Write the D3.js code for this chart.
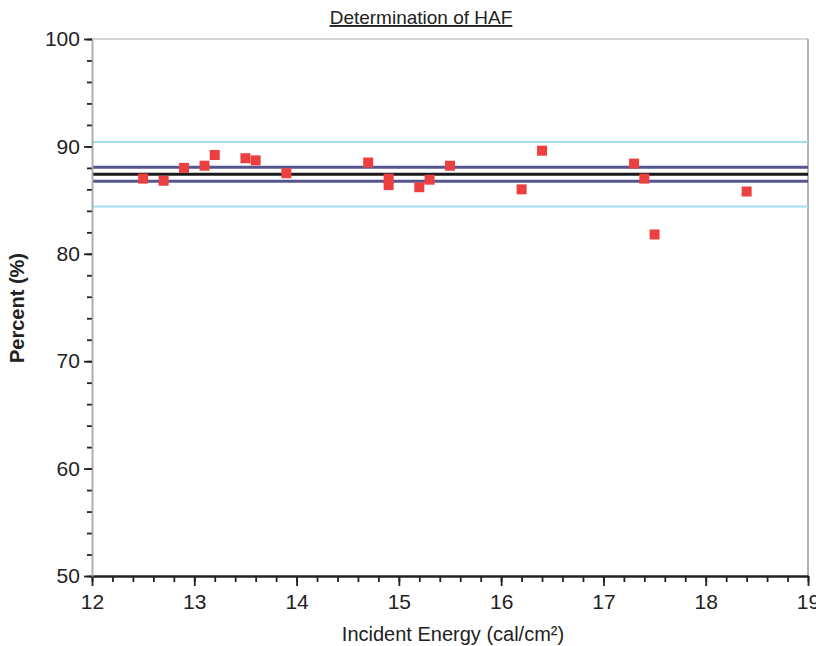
<!DOCTYPE html>
<html>
<head>
<meta charset="utf-8">
<script src="https://cdn.jsdelivr.net/npm/d3@7"></script>
<style>
  body { margin: 0; background: #fff; }
  text { font-family: "Liberation Sans Narrow", "Arial Narrow", "Liberation Sans", Arial, sans-serif; }
</style>
</head>
<body>
<div id="chart"></div>
<script>
// data
let energy  = [12.5, 12.7, 12.9, 13.1, 13.2, 13.5, 13.6, 13.9, 14.7, 14.9, 14.9, 15.2, 15.3, 15.5, 16.2, 16.4, 17.3, 17.4, 17.5, 18.4];
let percent = [87.0, 86.8, 88.0, 88.2, 89.2, 88.9, 88.7, 87.5, 88.5, 87.0, 86.4, 86.2, 86.9, 88.2, 86.0, 89.6, 88.4, 87.0, 81.8, 85.8];
let meanLine = 87.4;
let ciLines = [88.05, 86.75];
let limitLines = [90.4, 84.4];
let xTicks = [12, 13, 14, 15, 16, 17, 18, 19];
let yTicks = [50, 60, 70, 80, 90, 100];

let width = 816, height = 646;
let margin = {top: 39, right: 8, bottom: 70, left: 92};

let svg = d3.select("#chart")
    .append("svg")
    .attr("width", width)
    .attr("height", height);

let x = d3.scaleLinear().domain([12, 19]).range([margin.left, width - margin.right]);
let y = d3.scaleLinear().domain([50, 100]).range([height - margin.bottom, margin.top]);

// frame (top and right)
svg.append("line")
    .attr("x1", x(12)).attr("x2", x(19))
    .attr("y1", y(100)).attr("y2", y(100))
    .attr("stroke", "#c8c8c8").attr("stroke-width", 1.5);
svg.append("line")
    .attr("x1", x(19)).attr("x2", x(19))
    .attr("y1", y(100)).attr("y2", y(50))
    .attr("stroke", "#9a9a9a").attr("stroke-width", 1.5);

// horizontal reference lines
svg.selectAll("limitLines")
    .data(limitLines)
    .enter()
    .append("line")
    .attr("x1", x(12)).attr("x2", x(19))
    .attr("y1", d => y(d)).attr("y2", d => y(d))
    .attr("stroke", "#a6dcf2").attr("stroke-width", 2);

svg.selectAll("ciLines")
    .data(ciLines)
    .enter()
    .append("line")
    .attr("x1", x(12)).attr("x2", x(19))
    .attr("y1", d => y(d)).attr("y2", d => y(d))
    .attr("stroke", "#56568e").attr("stroke-width", 3);

svg.append("line")
    .attr("x1", x(12)).attr("x2", x(19))
    .attr("y1", y(meanLine)).attr("y2", y(meanLine))
    .attr("stroke", "#1a1a1a").attr("stroke-width", 3);

// points
let sz = 10;
svg.selectAll("points")
    .data(energy.map((e, i) => [e, percent[i]]))
    .enter()
    .append("rect")
    .attr("x", d => x(d[0]) - sz / 2)
    .attr("y", d => y(d[1]) - sz / 2)
    .attr("width", sz).attr("height", sz)
    .attr("fill", "#ec4040");

// x axis
let xAxis = svg.append("g")
    .attr("transform", "translate(0," + y(50) + ")");
xAxis.call(d3.axisBottom(x).tickValues(d3.range(12, 19.01, 0.2)).tickFormat("").tickSize(6).tickSizeOuter(0));
xAxis.call(g => g.append("g").call(d3.axisBottom(x).tickValues(xTicks).tickFormat(d3.format("d")).tickSize(10).tickSizeOuter(0)));
xAxis.selectAll("path, line").attr("stroke", "#222").attr("stroke-width", 1.8);
xAxis.selectAll("text").attr("font-size", 21).attr("fill", "#222").attr("dy", "0.95em");

// y axis
let yAxis = svg.append("g")
    .attr("transform", "translate(" + x(12) + ",0)");
yAxis.call(d3.axisLeft(y).tickValues(d3.range(50, 100.01, 2)).tickFormat("").tickSize(5).tickSizeOuter(0));
yAxis.call(g => g.append("g").call(d3.axisLeft(y).tickValues(yTicks).tickFormat(d3.format("d")).tickSize(8).tickSizeOuter(0)));
yAxis.selectAll("line").attr("stroke", "#222").attr("stroke-width", 1.8);
yAxis.selectAll("path").attr("stroke", "#aaa").attr("stroke-width", 1.5);
yAxis.selectAll("text").attr("font-size", 21).attr("fill", "#222").attr("dx", "-0.05em");

// title
let title = svg.append("text")
    .attr("x", 421).attr("y", 24)
    .attr("text-anchor", "middle")
    .attr("font-size", 19)
    .attr("fill", "#222")
    .attr("text-decoration", "underline")
    .text("Determination of HAF");

// axis labels
svg.append("text")
    .attr("x", 453).attr("y", 641)
    .attr("text-anchor", "middle")
    .attr("font-size", 20)
    .attr("fill", "#222")
    .text("Incident Energy (cal/cm²)");

svg.append("text")
    .attr("transform", "translate(24," + 308 + ") rotate(-90)")
    .attr("text-anchor", "middle")
    .attr("font-size", 20)
    .attr("fill", "#222")
    .attr("font-weight", "bold")
    .text("Percent (%)");
</script>
</body>
</html>
